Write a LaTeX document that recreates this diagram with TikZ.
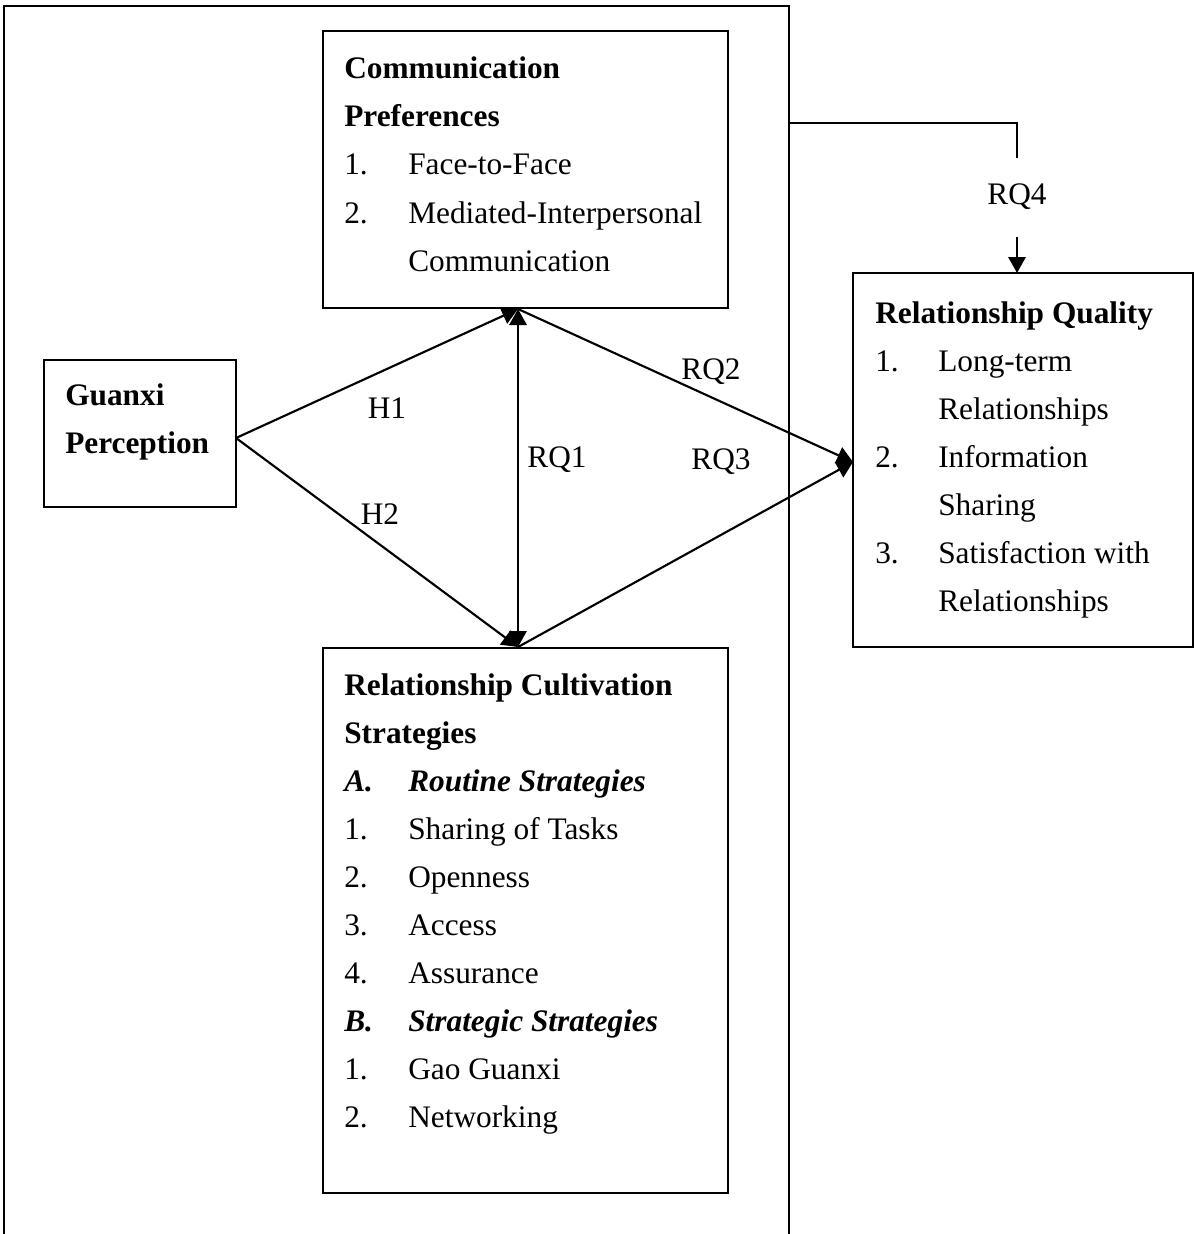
\documentclass[tikz,border=0pt]{standalone}
\usepackage{fontspec}
\setmainfont{Liberation Serif}
\usetikzlibrary{fit,arrows.meta}
\begin{document}
\begin{tikzpicture}[x=0.75pt,y=-0.75pt,
  box/.style={draw,line width=1.6pt,inner sep=0pt,fit={#1}},
  txt/.style={anchor=base west,inner sep=0pt,font=\fontsize{23.5}{28}\selectfont},
  btxt/.style={txt,font=\fontsize{23.5}{28}\selectfont\bfseries},
  bitxt/.style={txt,font=\fontsize{23.5}{28}\selectfont\bfseries\itshape},
  lbl/.style={inner sep=1pt,font=\fontsize{23.5}{28}\selectfont},
  conn/.style={line width=1.6pt},
  arr/.style={conn,-{Triangle[length=12pt,width=13pt]}},
  darr/.style={conn,{Triangle[length=12pt,width=13pt]}-{Triangle[length=12pt,width=13pt]}}]
\useasboundingbox (0,0) rectangle (1193,1234);
% outer frame
\draw[line width=1.5pt] (4,1234) -- (4,6) -- (789,6) -- (789,1234);
% boxes
\node[box={(44,360) (236,507)}] (guan) {};
\node[box={(323,31) (728,308)}] (comm) {};
\node[box={(853,273) (1193,647)}] (rq) {};
\node[box={(323,648) (728,1193)}] (rcs) {};
% Guanxi texts
\node[btxt] (g1) at (65,405) {Guanxi};
\node[btxt] (g2) at (65,453) {Perception};
% Communication texts
\node[btxt] (c1) at (344,79) {Communication};
\node[btxt] (c2) at (344,127) {Preferences};
\node[txt] (c3n) at (344,175) {1.};
\node[txt] (c3) at (408,175) {Face-to-Face};
\node[txt] (c4n) at (344,223) {2.};
\node[txt] (c4) at (408,223) {Mediated-Interpersonal};
\node[txt] (c5) at (408,271) {Communication};
% Relationship Quality texts
\node[btxt] (q1) at (875,323) {Relationship Quality};
\node[txt] (q2n) at (875,371) {1.};
\node[txt] (q2) at (938,371) {Long-term};
\node[txt] (q3) at (938,419) {Relationships};
\node[txt] (q4n) at (875,467) {2.};
\node[txt] (q4) at (938,467) {Information};
\node[txt] (q5) at (938,515) {Sharing};
\node[txt] (q6n) at (875,563) {3.};
\node[txt] (q6) at (938,563) {Satisfaction with};
\node[txt] (q7) at (938,611) {Relationships};
% RCS texts
\node[btxt] (r1) at (344,695) {Relationship Cultivation};
\node[btxt] (r2) at (344,743) {Strategies};
\node[bitxt] (r3n) at (344,791) {A.};
\node[bitxt] (r3) at (408,791) {Routine Strategies};
\node[txt] (r4n) at (344,839) {1.};
\node[txt] (r4) at (408,839) {Sharing of Tasks};
\node[txt] (r5n) at (344,887) {2.};
\node[txt] (r5) at (408,887) {Openness};
\node[txt] (r6n) at (344,935) {3.};
\node[txt] (r6) at (408,935) {Access};
\node[txt] (r7n) at (344,983) {4.};
\node[txt] (r7) at (408,983) {Assurance};
\node[bitxt] (r8n) at (344,1031) {B.};
\node[bitxt] (r8) at (408,1031) {Strategic Strategies};
\node[txt] (r9n) at (344,1079) {1.};
\node[txt] (r9) at (408,1079) {Gao Guanxi};
\node[txt] (r10n) at (344,1127) {2.};
\node[txt] (r10) at (408,1127) {Networking};
% connection points
\coordinate (gr) at (236,438);
\coordinate (cb) at (518,309);
\coordinate (rt) at (518,647);
\coordinate (ql) at (853,462);
\coordinate (fr) at (789,123);
\coordinate (k1) at (1017,123);
\coordinate (k2) at (1017,158);
\coordinate (k3) at (1017,237);
\coordinate (qt) at (1017,273);
% connectors
\draw[arr] (gr) -- (cb);
\draw[arr] (gr) -- (rt);
\draw[darr] (rt) -- (cb);
\draw[arr] (cb) -- (ql);
\draw[arr] (rt) -- (ql);
\draw[conn] (fr) -- (k1) -- (k2);
\draw[arr] (k3) -- (qt);
% labels
\node[lbl] (h1) at (387,408) {H1};
\node[lbl] (h2) at (380,514) {H2};
\node[lbl] (rq1) at (557,460) {RQ1};
\node[lbl] (rq2) at (711,372) {RQ2};
\node[lbl] (rq3) at (721,462) {RQ3};
\node[lbl] (rq4) at (1017,197) {RQ4};
\end{tikzpicture}
\end{document}
